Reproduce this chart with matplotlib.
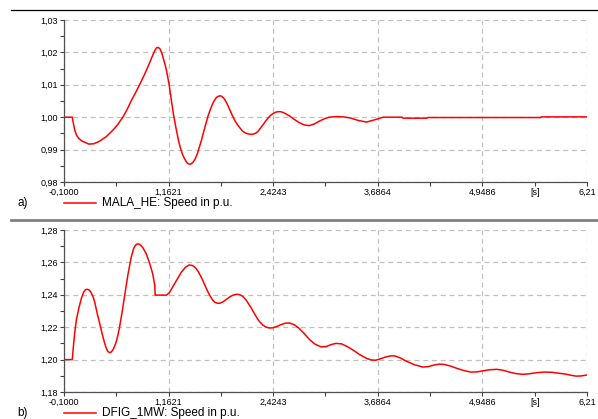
import numpy as np
import matplotlib
matplotlib.use('Agg')
import matplotlib.pyplot as plt
from matplotlib.lines import Line2D
from matplotlib.ticker import FixedLocator, FuncFormatter

plt.rcParams['font.family'] = ['Liberation Sans', 'DejaVu Sans']

# time axis ticks (DIgSILENT style, comma decimals)
x_ticks = [-0.1, 1.1621, 2.4243, 3.6864, 4.9486, 6.2107]
x_labels = ['-0,1000', '1,1621', '2,4243', '3,6864', '4,9486', '6,21']
unit_label = '[s]'

# a) synchronous generator speed
t_a = [-0.10, 0.00, 0.01, 0.03, 0.05, 0.08, 0.12, 0.20, 0.26, 0.33, 0.41, 0.49,
       0.55, 0.61, 0.66, 0.71, 0.76, 0.81, 0.87, 0.92, 0.96, 1.00, 1.02, 1.04,
       1.06, 1.08, 1.10, 1.12, 1.14, 1.17, 1.195, 1.22, 1.25, 1.28, 1.30, 1.33,
       1.36, 1.38, 1.40, 1.42, 1.44, 1.46, 1.48, 1.51, 1.53, 1.56, 1.58, 1.61,
       1.64, 1.67, 1.70, 1.73, 1.75, 1.78, 1.80, 1.83, 1.85, 1.88, 1.90, 1.93,
       1.96, 1.99, 2.02, 2.05, 2.09, 2.13, 2.17, 2.21, 2.24, 2.27, 2.30, 2.33,
       2.36, 2.39, 2.42, 2.45, 2.48, 2.51, 2.54, 2.58, 2.62, 2.68, 2.74, 2.80,
       2.86, 2.92, 2.99, 3.05, 3.10, 3.19, 3.27, 3.35, 3.45, 3.55, 3.65, 3.75,
       3.98, 3.99, 4.28, 4.29, 5.65, 5.66, 6.21]
speed_a = [1.0000, 1.0000, 0.9985, 0.9960, 0.9945, 0.9934, 0.9926, 0.9917, 0.9918,
           0.9926, 0.9940, 0.9960, 0.9978, 1.0000, 1.0023, 1.0050, 1.0074, 1.0099,
           1.0131, 1.0160, 1.0185, 1.0208, 1.0215, 1.0215, 1.0210, 1.0198, 1.0180,
           1.0162, 1.0140, 1.0098, 1.0053, 1.0010, 0.9968, 0.9930, 0.9909, 0.9885,
           0.9869, 0.9861, 0.9856, 0.9855, 0.9857, 0.9862, 0.9870, 0.9888, 0.9905,
           0.9930, 0.9950, 0.9978, 1.0005, 1.0027, 1.0045, 1.0058, 1.0063, 1.0066,
           1.0065, 1.0058, 1.0050, 1.0035, 1.0023, 1.0006, 0.9990, 0.9978, 0.9968,
           0.9958, 0.9951, 0.9948, 0.9947, 0.9950, 0.9956, 0.9966, 0.9976, 0.9987,
           0.9997, 1.0005, 1.0011, 1.0015, 1.0017, 1.0017, 1.0015, 1.0010, 1.0004,
           0.9993, 0.9983, 0.9976, 0.9974, 0.9979, 0.9989, 0.9996, 1.0000, 1.0002,
           1.0001, 0.9998, 0.9990, 0.9985, 0.9992, 1.0000, 1.0000, 0.9997, 0.9997,
           0.9999, 0.9999, 1.0001, 1.0001]
label_a = 'MALA_HE: Speed in p.u.'
yticks_a = [0.98, 0.99, 1.00, 1.01, 1.02, 1.03]

# b) DFIG speed
t_b = [-0.10, 0.00, 0.015, 0.03, 0.05, 0.08, 0.11, 0.14, 0.16, 0.18, 0.20, 0.22,
       0.25, 0.27, 0.29, 0.31, 0.33, 0.36, 0.39, 0.41, 0.43, 0.45, 0.47, 0.49,
       0.51, 0.53, 0.55, 0.57, 0.60, 0.63, 0.67, 0.71, 0.74, 0.76, 0.78, 0.80,
       0.82, 0.85, 0.89, 0.93, 0.97, 0.995, 1.00, 1.135, 1.17, 1.215, 1.27, 1.32,
       1.37, 1.41, 1.45, 1.49, 1.52, 1.56, 1.59, 1.63, 1.66, 1.69, 1.72, 1.75,
       1.78, 1.82, 1.86, 1.90, 1.94, 1.98, 2.01, 2.04, 2.07, 2.10, 2.12, 2.16,
       2.19, 2.23, 2.26, 2.30, 2.34, 2.38, 2.42, 2.47, 2.52, 2.57, 2.62, 2.68,
       2.74, 2.80, 2.86, 2.93, 3.00, 3.06, 3.12, 3.18, 3.25, 3.32, 3.39, 3.47,
       3.55, 3.60, 3.66, 3.72, 3.78, 3.84, 3.89, 3.96, 4.03, 4.13, 4.23, 4.30,
       4.36, 4.43, 4.49, 4.56, 4.63, 4.72, 4.81, 4.88, 4.95, 5.03, 5.12, 5.20,
       5.28, 5.36, 5.44, 5.52, 5.60, 5.69, 5.78, 5.87, 5.96, 6.02, 6.08, 6.14,
       6.21]
speed_b = [1.2000, 1.2000, 1.2090, 1.2170, 1.2246, 1.2320, 1.2379, 1.2420, 1.2432,
           1.2434, 1.2431, 1.2420, 1.2389, 1.2355, 1.2310, 1.2265, 1.2225, 1.2160,
           1.2102, 1.2070, 1.2050, 1.2043, 1.2047, 1.2060, 1.2081, 1.2110, 1.2150,
           1.2200, 1.2290, 1.2390, 1.2520, 1.2630, 1.2685, 1.2705, 1.2713, 1.2714,
           1.2708, 1.2692, 1.2656, 1.2600, 1.2530, 1.2460, 1.2398, 1.2398, 1.2412,
           1.2451, 1.2500, 1.2543, 1.2572, 1.2584, 1.2581, 1.2565, 1.2543, 1.2505,
           1.2470, 1.2425, 1.2395, 1.2370, 1.2354, 1.2348, 1.2348, 1.2357, 1.2372,
           1.2387, 1.2398, 1.2403, 1.2402, 1.2396, 1.2384, 1.2366, 1.2350, 1.2318,
           1.2290, 1.2256, 1.2234, 1.2213, 1.2200, 1.2195, 1.2196, 1.2205, 1.2216,
           1.2225, 1.2226, 1.2215, 1.2192, 1.2160, 1.2125, 1.2095, 1.2079, 1.2080,
           1.2092, 1.2100, 1.2097, 1.2080, 1.2058, 1.2030, 1.2008, 1.1998, 1.1996,
           1.2005, 1.2016, 1.2023, 1.2023, 1.2010, 1.1990, 1.1968, 1.1954, 1.1957,
           1.1966, 1.1972, 1.1970, 1.1961, 1.1948, 1.1933, 1.1923, 1.1924, 1.1930,
           1.1937, 1.1940, 1.1934, 1.1922, 1.1913, 1.1909, 1.1913, 1.1919, 1.1923,
           1.1922, 1.1916, 1.1910, 1.1903, 1.1898, 1.1899, 1.1905]
label_b = 'DFIG_1MW: Speed in p.u.'
yticks_b = [1.18, 1.20, 1.22, 1.24, 1.26, 1.28]

W, H = 598, 419
fig = plt.figure(figsize=(W / 100, H / 100), dpi=100)


def fx(px):
    return px / W


def fy(py):
    return 1 - py / H


def comma(v, pos):
    return ('%.2f' % v).replace('.', ',')


def make_panel(top_px, t, v, yticks, tag, label, line_col, line_w):
    bottom_px = top_px + 162
    ax = fig.add_axes([fx(64), fy(bottom_px), fx(587) - fx(64), (bottom_px - top_px) / H])
    ax.plot(t, v, color='#ff0000', lw=1.1)
    ax.set_xlim(x_ticks[0], x_ticks[-1])
    ax.set_ylim(yticks[0], yticks[-1])

    ax.xaxis.set_major_locator(FixedLocator(x_ticks))
    ax.set_xticklabels(x_labels)
    mids = [(a + b) / 2 for a, b in zip(x_ticks[:-1], x_ticks[1:])]
    ax.xaxis.set_minor_locator(FixedLocator(mids))
    # only the last minor tick carries the unit
    ax.xaxis.set_minor_formatter(
        FuncFormatter(lambda x, pos: unit_label if abs(x - mids[-1]) < 1e-6 else ''))
    ax.yaxis.set_major_locator(FixedLocator(yticks))
    ax.yaxis.set_major_formatter(FuncFormatter(comma))
    ymids = [(a + b) / 2 for a, b in zip(yticks[:-1], yticks[1:])]
    ax.yaxis.set_minor_locator(FixedLocator(ymids))

    ax.tick_params(which='both', length=3, width=0.8, color='#404040',
                   labelsize=6.5, pad=1.5)
    ax.grid(True, which='major', color='#c0c0c0', linestyle=(0, (4, 3)), lw=0.9)
    for s in ['top', 'right']:
        ax.spines[s].set_visible(False)
    for s in ['left', 'bottom']:
        ax.spines[s].set_color('#505050')
        ax.spines[s].set_linewidth(0.9)

    # header line above the panel
    fig.add_artist(Line2D([fx(11), fx(598)], [fy(top_px - 10)] * 2,
                          color=line_col, lw=line_w))

    # legend row under the panel
    leg_y = fy(bottom_px + 21)
    fig.text(fx(17), leg_y, tag, fontsize=8.5, va='center', ha='left')
    fig.add_artist(Line2D([fx(64), fx(96)], [leg_y, leg_y], color='#ff0000', lw=1.1))
    fig.text(fx(102), leg_y, label, fontsize=8.5, va='center', ha='left')
    return ax


ax_a = make_panel(20, t_a, speed_a, yticks_a, 'a)', label_a, 'black', 0.9)
ax_b = make_panel(230, t_b, speed_b, yticks_b, 'b)', label_b, '#808080', 2.0)

fig.savefig('out.png', dpi=100)
